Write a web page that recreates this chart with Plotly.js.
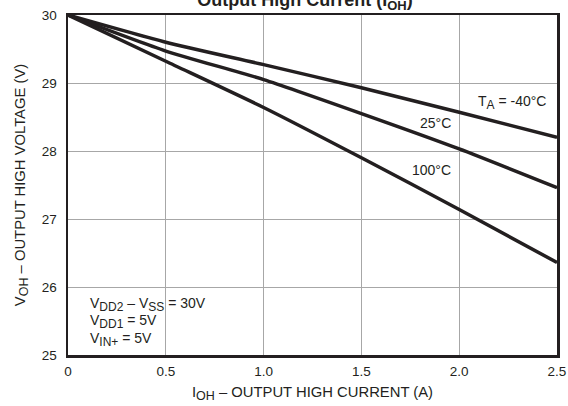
<!DOCTYPE html>
<html>
<head>
<meta charset="utf-8">
<script src="https://cdn.plot.ly/plotly-3.0.1.min.js"></script>
<style>html,body{margin:0;padding:0;background:#fff;}#chart{width:568px;height:406px;}</style>
</head>
<body>
<div id="chart"></div>
<script>
const currentA = [0, 0.5, 1.0, 1.5, 2.0, 2.5];
const voh_m40 = [30, 29.6, 29.27, 28.93, 28.57, 28.2];
const voh_25 = [30, 29.47, 29.05, 28.55, 28.03, 27.46];
const voh_100 = [30, 29.32, 28.64, 27.9, 27.14, 26.36];
const seriesNames = ['T<sub><span style="font-size:12px">A</span></sub> = -40°C', '25°C', '100°C'];
const xTicks = [0, 0.5, 1.0, 1.5, 2.0, 2.5];
const xTickText = ["0", "0.5", "1.0", "1.5", "2.0", "2.5"];
const yTicks = [25, 26, 27, 28, 29, 30];

const sub = (s, px) => '<sub><span style="font-size:' + (px || 12) + 'px">' + s + '</span></sub>';

const lineStyle = {color: '#231f20', width: 3.5, shape: 'spline', smoothing: 0.6};
const traces = [voh_m40, voh_25, voh_100].map((v, i) => ({
  x: currentA, y: v, type: 'scatter', mode: 'lines', line: lineStyle,
  name: seriesNames[i], showlegend: false, hoverinfo: 'skip'
}));

const fam = 'Liberation Sans, Arial, sans-serif';
const txtFont = {family: fam, size: 14, color: '#231f20'};
const axTitleFont = {family: fam, size: 14.8, color: '#231f20'};
const tickFont = {family: fam, size: 13.5, color: '#231f20'};
const ann = (x, y, text, xanchor) => ({x, y, xref: 'x', yref: 'y', text, showarrow: false, xanchor, yanchor: 'middle', font: txtFont});

const layout = {
  width: 568, height: 406,
  margin: {l: 68, r: 11, t: 15, b: 51},
  paper_bgcolor: '#fff', plot_bgcolor: '#fff',
  title: {text: '<b>Output High Current (I' + sub('OH', 13) + ')</b>', x: 0.537, xanchor: 'center', yref: 'container', y: 1.0, yanchor: 'middle',
          font: {family: fam, size: 18, color: '#231f20'}},
  xaxis: {range: [0, 2.5], tickvals: xTicks, ticktext: xTickText, showgrid: true, gridcolor: '#a7a7a7', gridwidth: 1,
          zeroline: false, showline: true, linecolor: '#231f20', linewidth: 2.5, mirror: true, ticks: '',
          tickfont: tickFont, ticklabelstandoff: 2,
          title: {text: 'I' + sub('OH', 12.5) + ' – OUTPUT HIGH CURRENT (A)', font: axTitleFont, standoff: 9}},
  yaxis: {range: [25, 30], tickvals: yTicks, showgrid: true, gridcolor: '#a7a7a7', gridwidth: 1,
          zeroline: false, showline: true, linecolor: '#231f20', linewidth: 2.5, mirror: true, ticks: '',
          tickfont: tickFont, ticklabelstandoff: 6,
          title: {text: 'V' + sub('OH', 12.5) + ' – OUTPUT HIGH VOLTAGE (V)', font: axTitleFont, standoff: 13}},
  annotations: [
    ann(2.454, 28.72, 'T' + sub('A') + ' = -40°C', 'right'),
    ann(1.968, 28.41, seriesNames[1], 'right'),
    ann(1.968, 27.72, seriesNames[2], 'right'),
    ann(0.1, 25.75, 'V' + sub('DD2') + ' – V' + sub('SS') + ' = 30V', 'left'),
    ann(0.1, 25.49, 'V' + sub('DD1') + ' = 5V', 'left'),
    ann(0.1, 25.23, 'V' + sub('IN+') + ' = 5V', 'left')
  ]
};
Plotly.newPlot('chart', traces, layout, {staticPlot: true, displayModeBar: false});
</script>
</body>
</html>
